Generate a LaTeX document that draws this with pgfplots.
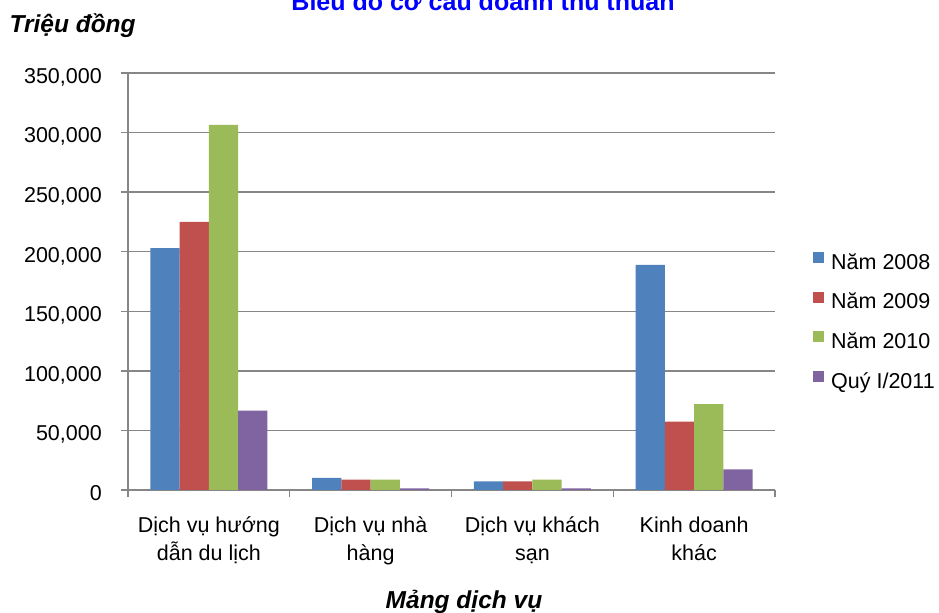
\documentclass[border=0pt]{standalone}
\usepackage{fontspec}
\setmainfont{Liberation Sans}
\usepackage{pgfplots}
\pgfplotsset{compat=1.18}

\definecolor{c2008}{HTML}{4F81BD}
\definecolor{c2009}{HTML}{C0504D}
\definecolor{c2010}{HTML}{9BBB59}
\definecolor{c2011}{HTML}{8064A2}
\definecolor{axisgray}{HTML}{868686}
\definecolor{titleblue}{HTML}{0000FF}

\newcommand{\tickfont}{\fontsize{21.5bp}{28bp}\selectfont}
\newcommand{\labelfont}{\fontsize{24.5bp}{28bp}\selectfont\bfseries\itshape}

\pgfplotsset{
  sq legend/.style={
    legend image code/.code={\fill[##1] (0bp,0.8bp) rectangle (11bp,11.8bp);}
  }
}

\begin{document}
\begin{tikzpicture}
\useasboundingbox (0,0) rectangle (939bp,613bp);
\begin{axis}[
  at={(128bp,123bp)}, anchor=south west,
  scale only axis, width=647bp, height=417bp,
  ybar=0pt, bar width=29.3bp,
  xmin=0.5, xmax=4.5, ymin=0, ymax=350000,
  axis x line*=bottom, axis y line*=left,
  axis line style={axisgray, line width=1.3bp},
  tick style={axisgray, line width=1.3bp},
  tick align=outside, major tick length=7bp,
  xtick={0.5,1.5,2.5,3.5,4.5}, xticklabels={},
  extra x ticks={1,2,3,4},
  extra x tick labels={Dịch vụ hướng\\dẫn du lịch, Dịch vụ nhà\\hàng, Dịch vụ khách\\sạn, Kinh doanh\\khác},
  extra x tick style={major tick length=0pt,
    xticklabel style={align=center, anchor=base, inner sep=0pt, yshift=-70bp}},
  ytick={0,50000,...,350000},
  scaled y ticks=false,
  yticklabel style={anchor=base east, inner sep=0pt, xshift=-19bp, yshift=-10.3bp},
  /pgf/number format/.cd, fixed, 1000 sep={,}, assume math mode=true, /pgfplots/.cd,
  tick label style={font=\tickfont},
  ymajorgrids,
  major grid style={axisgray, line width=1.3bp},
  title={Biểu đồ cơ cấu doanh thu thuần},
  every axis title/.style={at={(0.5487,1.1487)}, anchor=base,
    font=\fontsize{25bp}{28bp}\selectfont\bfseries, text=titleblue},
  ylabel={Triệu đồng},
  every axis y label/.style={at={(-0.1885,1.098)}, anchor=base west, font=\labelfont},
  xlabel={Mảng dịch vụ},
  every axis x label/.style={at={(0.5193,-0.283)}, anchor=base, font=\labelfont},
  legend style={draw=none, fill=none, inner sep=0pt,
    at={(1.0587,0.4015)}, anchor=west, font=\tickfont,
    row sep=17.3bp,
    nodes={inner sep=0pt, text height=16bp, text depth=5bp},
    /tikz/every odd column/.append style={column sep=7bp}},
  legend cell align=left,
]
\addplot[fill=c2008, draw=none, sq legend] coordinates {(1,203100) (2,10100) (3,7250) (4,189000)};
\addlegendentry{Năm 2008}
\addplot[fill=c2009, draw=none, sq legend] coordinates {(1,225000) (2,8650) (3,7250) (4,57400)};
\addlegendentry{Năm 2009}
\addplot[fill=c2010, draw=none, sq legend] coordinates {(1,306500) (2,8650) (3,8650) (4,72000)};
\addlegendentry{Năm 2010}
\addplot[fill=c2011, draw=none, sq legend] coordinates {(1,66700) (2,1350) (3,1350) (4,17400)};
\addlegendentry{Quý I/2011}
\end{axis}
\end{tikzpicture}
\end{document}
